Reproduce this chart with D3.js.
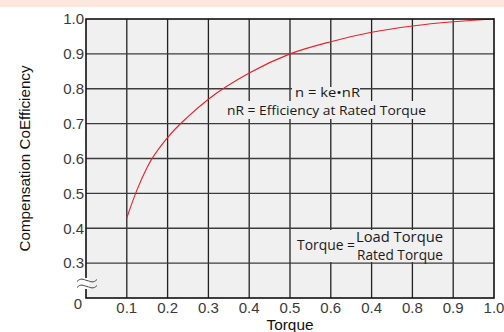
<!DOCTYPE html>
<html>
<head>
<meta charset="utf-8">
<script src="https://cdn.jsdelivr.net/npm/d3@7"></script>
<style>
body { margin: 0; background: #fff; }
svg { display: block; }
text { font-family: "Liberation Sans", Arial, sans-serif; }
.note { font-family: "Open Sans", sans-serif; fill: #1a1a1a; }
</style>
</head>
<body>
<svg id="chart" width="504" height="332"></svg>
<script>
// curve values
var torque = [0.1, 0.125, 0.15, 0.2, 0.25, 0.3, 0.4, 0.5, 0.6, 0.7, 0.8, 0.9, 1.0];
var coeff  = [0.43, 0.51, 0.575, 0.66, 0.72, 0.77, 0.845, 0.9, 0.935, 0.962, 0.98, 0.992, 1.0];

var xTicks = [0.1, 0.2, 0.3, 0.4, 0.5, 0.6, 0.7, 0.8, 0.9, 1.0];
var xTickLabels = ["0.1", "0.2", "0.3", "0.4", "0.5", "0.6", "0.4", "0.8", "0.9", "1.0"];
var yTicks = [0.3, 0.4, 0.5, 0.6, 0.7, 0.8, 0.9, 1.0];
var yTickLabels = ["0.3", "0.4", "0.5", "0.6", "0.7", "0.8", "0.9", "1.0"];

var svg = d3.select("#chart");

svg.append("rect")
	.attr("x", 0).attr("y", 0)
	.attr("width", 504).attr("height", 7)
	.attr("fill", "#fce7df");

var pLeft = 86, pRight = 494, pTop = 19, pBottom = 298;

var x = d3.scaleLinear().domain([0, 1]).range([pLeft, pRight]);
var y = d3.scaleLinear().domain([0.2, 1]).range([pBottom, pTop]);

svg.append("rect")
	.attr("x", pLeft).attr("y", pTop)
	.attr("width", pRight - pLeft).attr("height", pBottom - pTop)
	.attr("fill", "#f0f0f0");

var grid = svg.append("g").attr("stroke-width", 1.3);
grid.selectAll("line.v")
	.data(xTicks.slice(0, -1))
	.enter().append("line")
	.attr("class", "v")
	.attr("stroke", "#222")
	.attr("x1", function(d) { return x(d); })
	.attr("x2", function(d) { return x(d); })
	.attr("y1", pTop).attr("y2", pBottom);
grid.selectAll("line.h")
	.data(yTicks.slice(0, -1))
	.enter().append("line")
	.attr("class", "h")
	.attr("stroke", "#3c3c3c")
	.attr("x1", pLeft).attr("x2", pRight)
	.attr("y1", function(d) { return y(d); })
	.attr("y2", function(d) { return y(d); });

// masks behind the notes
svg.append("rect").attr("x", 292).attr("y", 87).attr("width", 68).attr("height", 14).attr("fill", "#f0f0f0");
svg.append("rect").attr("x", 226).attr("y", 101).attr("width", 203).attr("height", 18).attr("fill", "#f0f0f0");
svg.append("rect").attr("x", 292).attr("y", 230).attr("width", 157).attr("height", 32).attr("fill", "#f0f0f0");

var line = d3.line()
	.x(function(d, i) { return x(torque[i]); })
	.y(function(d) { return y(d); })
	.curve(d3.curveMonotoneX);

svg.append("path")
	.datum(coeff)
	.attr("d", line)
	.attr("fill", "none")
	.attr("stroke", "#e8202a")
	.attr("stroke-width", 1.1);

svg.append("rect")
	.attr("x", pLeft).attr("y", pTop)
	.attr("width", pRight - pLeft).attr("height", pBottom - pTop)
	.attr("fill", "none")
	.attr("stroke", "#111")
	.attr("stroke-width", 1.6);

// axis break
svg.append("rect").attr("x", 83).attr("y", 278).attr("width", 6).attr("height", 11).attr("fill", "#fff");
var brk = svg.append("g").attr("fill", "none").attr("stroke", "#444").attr("stroke-width", 1);
[280.5, 286.5].forEach(function(yy) {
	brk.append("path")
		.attr("d", "M77," + (yy + 1) + " C81," + (yy - 3) + " 83," + (yy - 1) + " 87," + yy +
			" S93," + (yy + 3) + " 97," + (yy - 1));
});

var tickStyle = function(sel) {
	sel.attr("font-size", 15).attr("fill", "#3a3a3a");
};

svg.append("g").selectAll("text")
	.data(yTicks)
	.enter().append("text")
	.attr("x", 84)
	.attr("y", function(d) { return y(d); })
	.attr("dy", "0.35em")
	.attr("text-anchor", "end")
	.text(function(d, i) { return yTickLabels[i]; })
	.call(tickStyle);

svg.append("g").selectAll("text")
	.data(xTicks)
	.enter().append("text")
	.attr("x", function(d) { return x(d); })
	.attr("y", 312.5)
	.attr("text-anchor", "middle")
	.text(function(d, i) { return xTickLabels[i]; })
	.call(tickStyle);

svg.append("text").attr("x", 78).attr("y", 309).attr("text-anchor", "middle").text("0").call(tickStyle);

svg.append("text")
	.attr("x", x(0.5)).attr("y", 329.5)
	.attr("text-anchor", "middle")
	.attr("font-size", 14.5).attr("fill", "#111")
	.attr("textLength", 47).attr("lengthAdjust", "spacingAndGlyphs")
	.text("Torque");

svg.append("text")
	.attr("transform", "translate(30," + ((pTop + pBottom) / 2) + ") rotate(-90)")
	.attr("text-anchor", "middle")
	.attr("font-size", 14).attr("fill", "#111")
	.attr("textLength", 186).attr("lengthAdjust", "spacingAndGlyphs")
	.text("Compensation CoEfficiency");

var note = function(txt, xx, yy, w, size) {
	svg.append("text").attr("class", "note")
		.attr("x", xx).attr("y", yy)
		.attr("font-size", size)
		.attr("textLength", w).attr("lengthAdjust", "spacingAndGlyphs")
		.text(txt);
};
note("n = ke•nR", 295, 96.5, 65, 13.5);
note("nR = Efficiency at Rated Torque", 227, 115, 199, 13.5);
note("Torque =", 297, 250, 58, 14.5);
note("Load Torque", 356, 242, 87, 15);
note("Rated Torque", 357, 260, 86, 14);
</script>
</body>
</html>
